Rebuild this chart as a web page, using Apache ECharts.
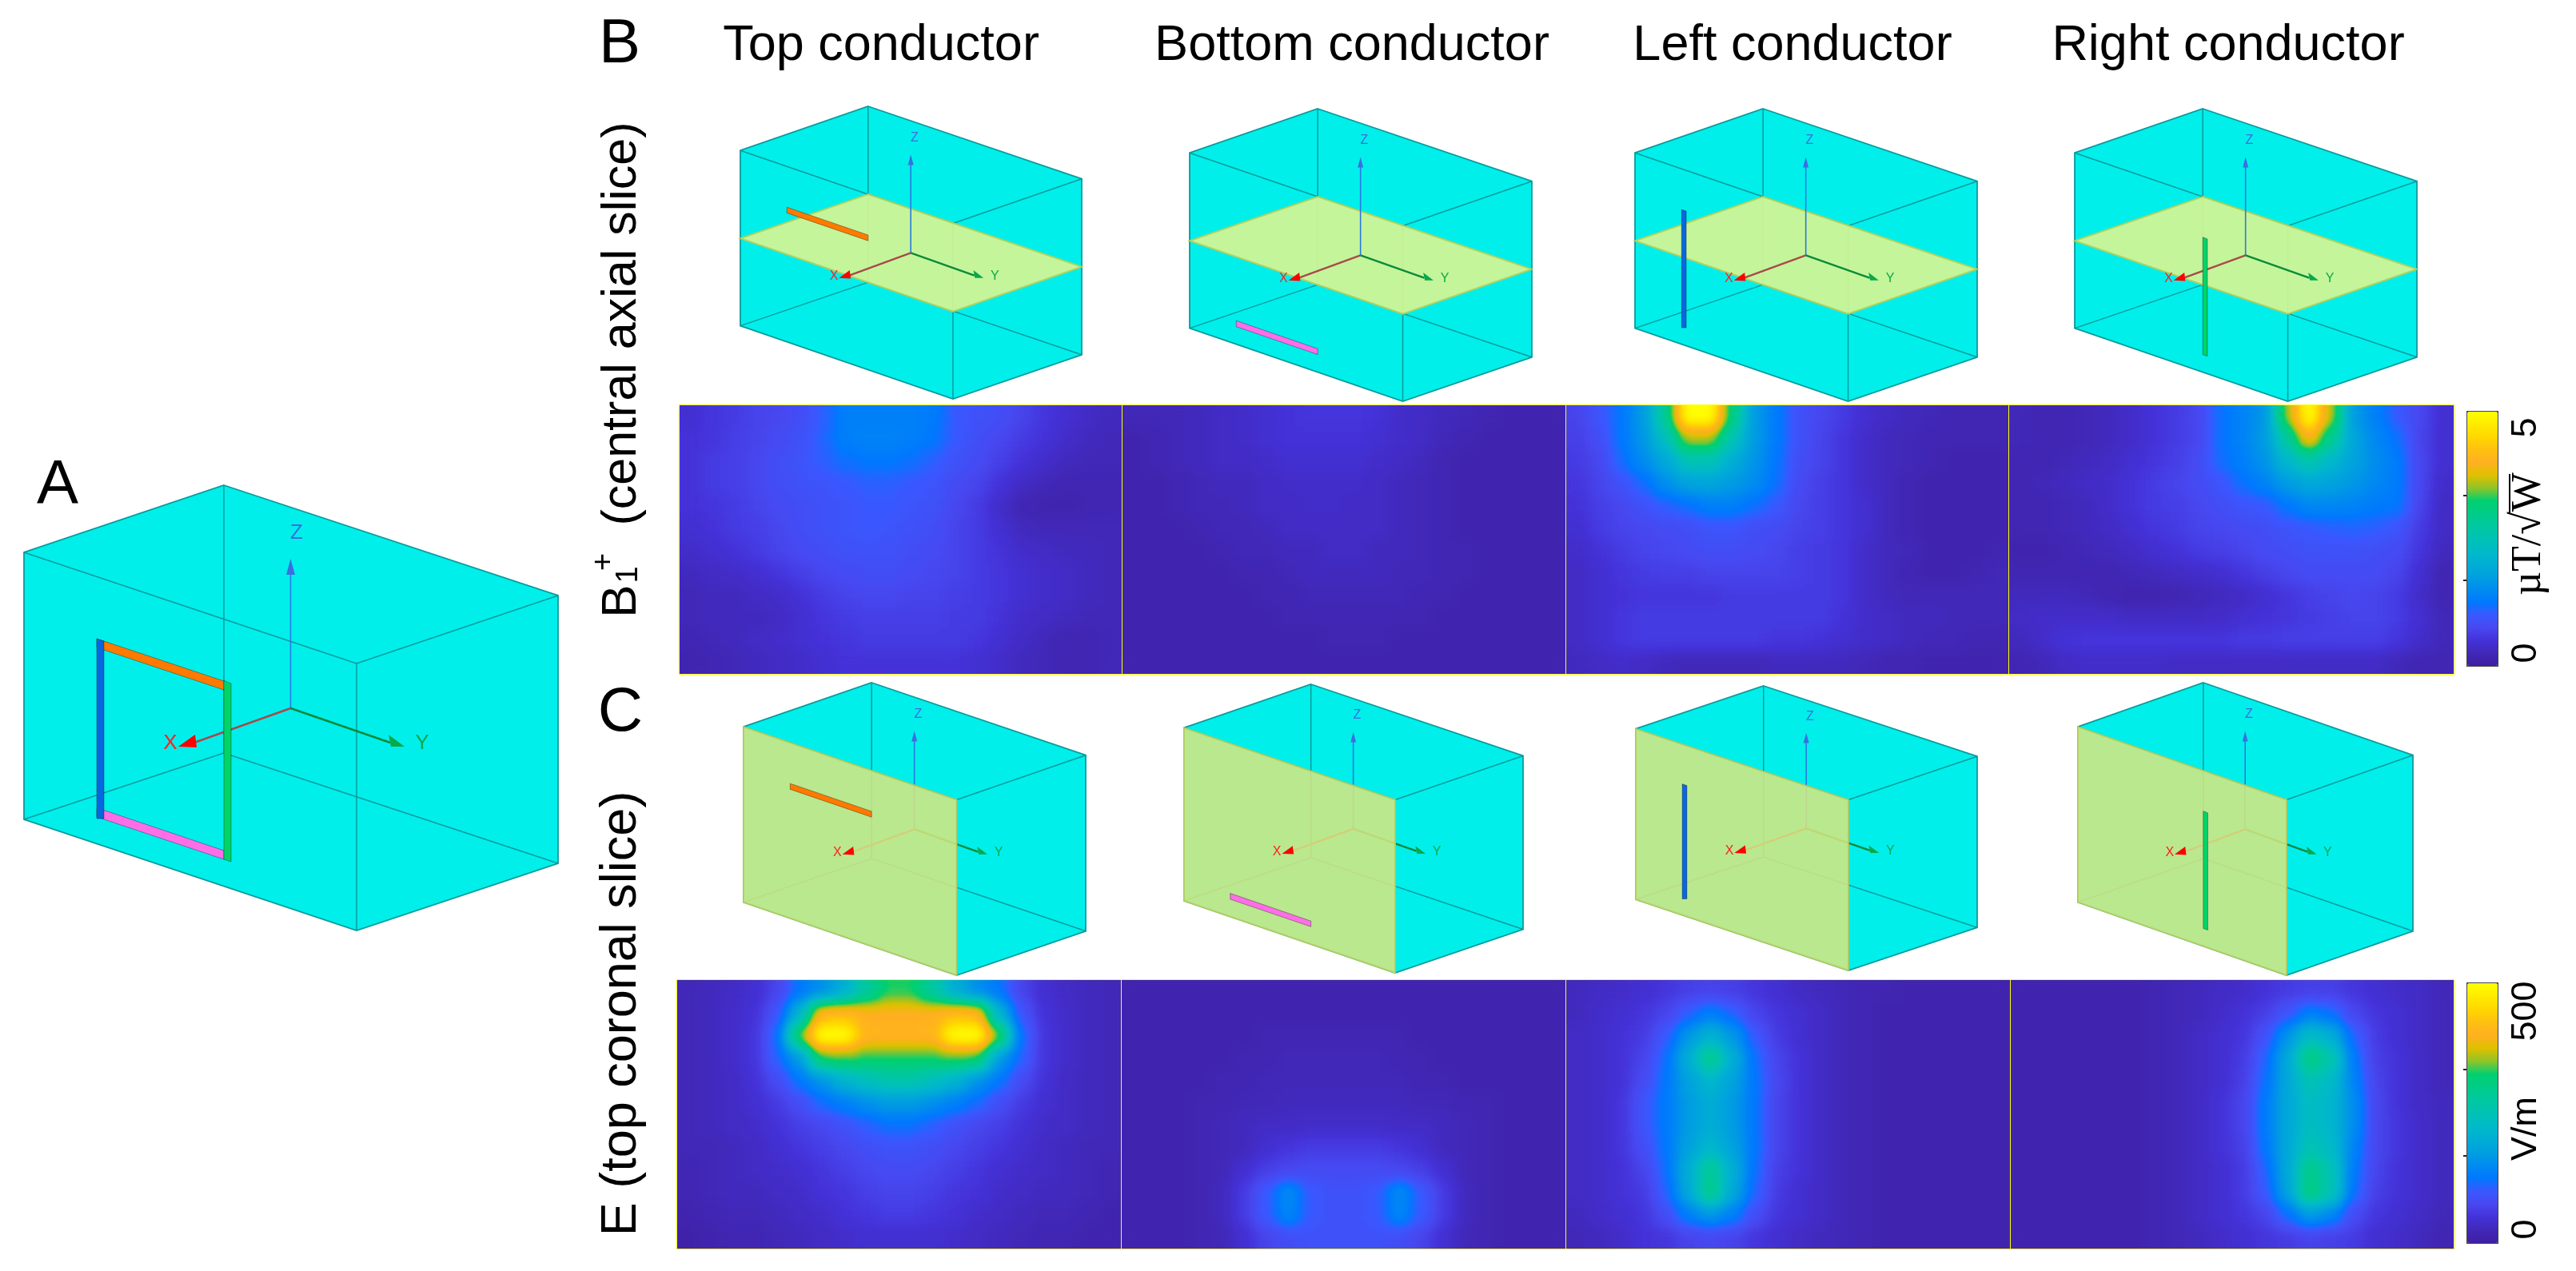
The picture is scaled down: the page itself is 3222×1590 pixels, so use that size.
<!DOCTYPE html>
<html>
<head>
<meta charset="utf-8">
<title>Coil conductor B1+ and E maps</title>
<script src="https://cdn.jsdelivr.net/npm/echarts@6/dist/echarts.min.js"></script>
<style>
  html, body { margin: 0; background: #fff; }
  #page { position: relative; width: 3222px; height: 1590px; overflow: hidden; }
  #overlay { position: absolute; left: 0; top: 0; width: 3222px; height: 1590px; z-index: 2; }
  .panel { position: absolute; overflow: hidden; outline: 3px solid #ffff00; outline-offset: -2px; z-index: 3; }
  .panel > div { width: 100%; height: 100%; filter: url(#fieldShade); }
</style>
</head>
<body>
<!-- the maps are drawn as grey values, then smoothed and coloured with the colour bar's ramp -->
<svg width="0" height="0" style="position:absolute">
  <filter id="fieldShade" color-interpolation-filters="sRGB">
    <feGaussianBlur stdDeviation="9"/>
    <feComponentTransfer>
      <feFuncR id="lutR" type="table"/>
      <feFuncG id="lutG" type="table"/>
      <feFuncB id="lutB" type="table"/>
      <feFuncA type="discrete" tableValues="1"/>
    </feComponentTransfer>
  </filter>
</svg>
<div id="page"><div id="overlay"></div></div>
<script>
// colour bar ramp, bottom to top
const colourRamp = ['#3f1fa0', '#4128b8', '#4432d8', '#4848f0', '#3a58ff', '#0078ff', '#008cf0',
  '#00a0e0', '#00aed4', '#00bac8', '#00c2b4', '#00c8a0', '#00cc88', '#00d070', '#90c428',
  '#e0c000', '#ffb020', '#ffc010', '#ffd700', '#ffeb00', '#ffff00']

const headings = ['Top conductor', 'Bottom conductor', 'Left conductor', 'Right conductor']

// field maps, rows top to bottom, in % of the colour bar (5 uT/sqrtW, 500 V/m)
const b1Top = [
  [9, 11, 12, 14, 15, 17, 21, 27, 27, 27, 27, 26, 20, 18, 17, 14, 11, 9, 7, 6],
  [10, 11, 13, 14, 16, 18, 22, 27, 28, 28, 27, 25, 20, 17, 15, 12, 10, 8, 6, 5],
  [10, 12, 13, 15, 17, 19, 21, 24, 25, 25, 24, 21, 18, 16, 13, 10, 8, 6, 5, 5],
  [10, 12, 13, 15, 17, 18, 19, 20, 21, 21, 20, 19, 16, 14, 10, 7, 5, 4, 4, 4],
  [10, 11, 12, 14, 16, 17, 18, 19, 20, 20, 19, 18, 15, 12, 8, 4, 3, 3, 4, 4],
  [9, 10, 12, 13, 15, 17, 18, 19, 20, 19, 18, 17, 14, 12, 9, 6, 5, 5, 5, 5],
  [8, 9, 10, 12, 14, 16, 17, 18, 18, 18, 17, 16, 14, 12, 10, 8, 7, 6, 6, 5],
  [6, 7, 8, 9, 11, 13, 15, 16, 17, 17, 16, 15, 14, 12, 11, 9, 8, 7, 6, 5],
  [5, 6, 6, 7, 8, 10, 12, 14, 15, 15, 14, 14, 13, 12, 11, 9, 8, 7, 6, 5],
  [5, 6, 6, 6, 7, 9, 11, 12, 13, 13, 13, 13, 12, 12, 10, 8, 7, 6, 5, 5],
  [4, 5, 6, 7, 8, 9, 10, 11, 12, 12, 12, 12, 12, 11, 9, 7, 5, 4, 4, 5],
  [3, 4, 5, 6, 7, 8, 9, 10, 10, 10, 10, 10, 10, 9, 8, 6, 5, 4, 4, 5]
]
const b1Bottom = [
  [5, 5, 5, 6, 7, 8, 9, 10, 11, 11, 11, 10, 8, 7, 6, 5, 4, 3, 3, 3],
  [3, 4, 5, 6, 7, 8, 9, 10, 10, 10, 10, 9, 8, 7, 5, 4, 3, 3, 3, 3],
  [3, 4, 5, 6, 7, 7, 8, 9, 9, 9, 9, 8, 7, 6, 4, 3, 3, 3, 3, 3],
  [3, 3, 4, 5, 6, 6, 7, 8, 8, 8, 8, 7, 6, 5, 4, 3, 3, 3, 3, 3],
  [3, 3, 4, 5, 5, 6, 7, 7, 8, 8, 7, 7, 6, 5, 4, 3, 3, 3, 3, 3],
  [3, 3, 3, 4, 5, 5, 6, 7, 7, 7, 7, 7, 6, 5, 4, 3, 3, 3, 3, 3],
  [3, 3, 3, 3, 4, 5, 5, 6, 6, 7, 7, 6, 6, 5, 4, 4, 3, 3, 3, 3],
  [3, 3, 3, 3, 3, 4, 4, 5, 6, 6, 6, 6, 5, 5, 4, 4, 3, 3, 3, 3],
  [3, 3, 3, 3, 3, 3, 4, 4, 5, 5, 5, 5, 5, 4, 4, 3, 3, 3, 3, 3],
  [3, 3, 3, 3, 3, 3, 3, 4, 4, 4, 4, 4, 4, 4, 3, 3, 3, 3, 3, 3],
  [3, 3, 3, 3, 3, 3, 3, 3, 3, 4, 4, 4, 3, 3, 3, 3, 3, 3, 3, 3],
  [3, 3, 3, 3, 3, 3, 3, 3, 3, 3, 3, 3, 3, 3, 3, 3, 3, 3, 3, 3]
]
const b1Left = [
  [14, 19, 25, 34, 58, 100, 100, 62, 34, 26, 18, 15, 12, 9, 7, 6, 5, 4, 4, 4],
  [13, 17, 25, 33, 48, 72, 72, 50, 34, 26, 18, 14, 11, 8, 6, 5, 4, 4, 4, 4],
  [12, 15, 23, 30, 38, 50, 50, 40, 32, 25, 17, 14, 11, 8, 6, 5, 4, 3, 3, 3],
  [11, 14, 18, 23, 31, 36, 37, 34, 30, 24, 16, 13, 11, 8, 6, 4, 3, 3, 3, 3],
  [10, 13, 15, 18, 21, 24, 27, 27, 24, 20, 15, 13, 11, 9, 6, 4, 3, 3, 3, 3],
  [9, 12, 14, 15, 16, 17, 19, 19, 17, 16, 14, 13, 11, 9, 6, 4, 3, 3, 3, 3],
  [8, 10, 12, 14, 15, 16, 17, 17, 16, 15, 13, 12, 11, 8, 6, 5, 3, 3, 3, 4],
  [7, 9, 11, 12, 13, 13, 14, 14, 14, 14, 13, 12, 11, 8, 6, 4, 3, 3, 4, 5],
  [7, 9, 10, 11, 11, 11, 11, 12, 12, 12, 12, 12, 11, 8, 6, 5, 5, 5, 5, 5],
  [7, 9, 11, 12, 12, 12, 12, 12, 12, 12, 12, 12, 10, 8, 7, 6, 6, 5, 5, 5],
  [7, 9, 11, 12, 12, 12, 12, 12, 12, 11, 11, 10, 9, 8, 7, 6, 5, 5, 4, 4],
  [6, 7, 8, 7, 6, 5, 5, 5, 5, 6, 6, 6, 6, 5, 4, 4, 3, 3, 3, 3]
]
const b1Right = [
  [5, 4, 4, 5, 6, 8, 10, 12, 15, 24, 28, 33, 70, 100, 72, 34, 27, 20, 15, 9],
  [5, 4, 4, 5, 6, 8, 10, 12, 15, 24, 28, 34, 55, 80, 58, 37, 29, 24, 14, 9],
  [4, 4, 5, 6, 7, 9, 11, 13, 16, 23, 27, 32, 44, 52, 44, 36, 30, 26, 15, 9],
  [4, 5, 6, 7, 8, 10, 12, 14, 16, 19, 24, 28, 34, 38, 36, 33, 29, 26, 15, 8],
  [4, 4, 5, 6, 8, 10, 12, 13, 15, 17, 19, 20, 25, 29, 29, 28, 26, 25, 14, 7],
  [4, 4, 5, 6, 7, 9, 11, 12, 14, 15, 16, 17, 19, 20, 21, 22, 21, 19, 12, 7],
  [3, 3, 4, 5, 6, 7, 9, 10, 12, 13, 14, 16, 17, 18, 18, 18, 17, 16, 11, 6],
  [4, 4, 4, 4, 4, 5, 6, 7, 8, 9, 11, 13, 15, 16, 16, 16, 16, 14, 9, 4],
  [6, 6, 6, 5, 4, 3, 3, 4, 5, 6, 7, 9, 11, 13, 14, 15, 14, 12, 8, 4],
  [7, 8, 8, 8, 8, 7, 7, 7, 7, 8, 9, 10, 11, 12, 13, 14, 14, 12, 9, 5],
  [6, 8, 10, 11, 11, 11, 11, 11, 11, 11, 12, 12, 13, 13, 13, 13, 13, 11, 8, 5],
  [4, 5, 7, 8, 8, 8, 8, 7, 7, 7, 7, 7, 7, 7, 7, 7, 7, 5, 4, 4]
]
const eTop = [
  [5, 6, 7, 9, 14, 25, 31, 40, 55, 66, 66, 55, 40, 31, 25, 14, 9, 7, 6, 5],
  [5, 6, 8, 10, 19, 42, 82, 84, 80, 80, 80, 80, 84, 82, 42, 19, 10, 8, 6, 5],
  [5, 6, 8, 11, 24, 68, 100, 100, 82, 81, 81, 82, 100, 100, 68, 24, 11, 8, 6, 5],
  [5, 6, 8, 11, 22, 34, 66, 68, 66, 66, 66, 66, 68, 66, 34, 22, 11, 8, 6, 5],
  [5, 6, 7, 10, 16, 25, 32, 42, 48, 52, 52, 48, 42, 32, 25, 16, 10, 7, 6, 5],
  [5, 6, 7, 9, 12, 17, 23, 27, 31, 34, 34, 31, 27, 23, 17, 12, 9, 7, 6, 5],
  [5, 6, 7, 8, 10, 13, 15, 18, 21, 24, 24, 21, 18, 15, 13, 10, 8, 7, 6, 5],
  [5, 5, 6, 7, 9, 11, 13, 15, 17, 18, 18, 17, 15, 13, 11, 9, 7, 6, 5, 5],
  [4, 5, 6, 7, 8, 9, 11, 13, 15, 16, 16, 15, 13, 11, 9, 8, 7, 6, 5, 4],
  [4, 5, 6, 6, 7, 8, 10, 11, 13, 14, 14, 13, 11, 10, 8, 7, 6, 6, 5, 4],
  [3, 4, 5, 5, 6, 7, 8, 10, 11, 12, 12, 11, 10, 8, 7, 6, 5, 5, 4, 3],
  [2, 3, 4, 4, 5, 6, 7, 8, 9, 9, 9, 9, 8, 7, 6, 5, 4, 4, 3, 3]
]
const eBottom = [
  [3, 3, 3, 3, 3, 3, 3, 3, 3, 3, 3, 3, 3, 3, 3, 3, 3, 3, 3, 3],
  [3, 3, 3, 3, 3, 3, 3, 3, 3, 3, 3, 3, 3, 3, 3, 3, 3, 3, 3, 3],
  [3, 3, 3, 3, 3, 3, 4, 4, 4, 4, 4, 4, 4, 3, 3, 3, 3, 3, 3, 3],
  [3, 3, 3, 3, 3, 4, 4, 5, 5, 5, 5, 5, 4, 4, 3, 3, 3, 3, 3, 3],
  [3, 3, 3, 3, 4, 4, 5, 5, 5, 5, 5, 5, 5, 4, 4, 3, 3, 3, 3, 3],
  [3, 3, 3, 4, 4, 5, 5, 6, 6, 6, 6, 6, 6, 5, 5, 4, 4, 3, 3, 3],
  [3, 3, 3, 4, 5, 6, 7, 7, 8, 8, 8, 8, 7, 7, 6, 5, 4, 3, 3, 3],
  [3, 3, 3, 4, 5, 6, 9, 11, 12, 12, 12, 12, 11, 9, 6, 5, 4, 3, 3, 3],
  [3, 3, 3, 4, 5, 9, 13, 15, 16, 16, 16, 16, 15, 13, 9, 5, 4, 3, 3, 3],
  [3, 3, 3, 4, 6, 12, 20, 30, 20, 18, 18, 20, 30, 20, 12, 6, 4, 3, 3, 3],
  [3, 3, 3, 4, 6, 12, 20, 29, 20, 18, 18, 20, 29, 20, 12, 6, 4, 3, 3, 3],
  [3, 3, 3, 4, 5, 9, 14, 17, 18, 18, 18, 18, 17, 14, 9, 5, 4, 3, 3, 3]
]
const eLeft = [
  [6, 7, 8, 9, 11, 13, 14, 13, 11, 9, 7, 6, 5, 4, 4, 3, 3, 3, 3, 3],
  [6, 8, 9, 11, 14, 21, 27, 22, 14, 11, 9, 7, 5, 4, 3, 3, 3, 3, 3, 3],
  [7, 8, 10, 12, 20, 33, 42, 33, 20, 12, 9, 7, 5, 4, 3, 3, 3, 3, 3, 3],
  [7, 8, 10, 14, 24, 40, 60, 40, 24, 14, 10, 7, 5, 4, 3, 3, 3, 3, 3, 3],
  [7, 8, 10, 16, 25, 36, 44, 36, 25, 15, 10, 7, 5, 4, 3, 3, 3, 3, 3, 3],
  [7, 8, 11, 19, 26, 34, 40, 34, 25, 14, 10, 7, 5, 4, 3, 3, 3, 3, 3, 3],
  [7, 8, 11, 19, 26, 34, 40, 34, 25, 14, 10, 7, 5, 4, 3, 3, 3, 3, 3, 3],
  [7, 8, 11, 17, 25, 36, 44, 36, 25, 14, 10, 7, 5, 4, 3, 3, 3, 3, 3, 3],
  [7, 8, 10, 14, 24, 40, 58, 40, 24, 13, 10, 7, 5, 4, 3, 3, 3, 3, 3, 3],
  [7, 8, 10, 12, 22, 38, 60, 38, 22, 12, 9, 7, 5, 4, 3, 3, 3, 3, 3, 3],
  [6, 8, 9, 11, 17, 27, 33, 27, 17, 11, 9, 7, 5, 4, 3, 3, 3, 3, 3, 3],
  [5, 6, 8, 10, 11, 14, 15, 14, 11, 9, 7, 6, 5, 4, 3, 3, 3, 3, 3, 3]
]
const eRight = [
  [3, 3, 3, 3, 3, 3, 4, 5, 6, 7, 8, 10, 12, 13, 13, 11, 9, 8, 7, 5],
  [3, 3, 3, 3, 3, 3, 4, 5, 6, 8, 10, 13, 19, 27, 24, 15, 11, 9, 7, 5],
  [3, 3, 3, 3, 3, 3, 4, 5, 7, 9, 11, 18, 32, 46, 40, 22, 12, 9, 7, 5],
  [3, 3, 3, 3, 3, 3, 4, 5, 7, 9, 12, 22, 38, 62, 52, 26, 13, 10, 7, 5],
  [3, 3, 3, 3, 3, 3, 4, 5, 7, 9, 13, 24, 38, 50, 45, 28, 14, 10, 7, 5],
  [3, 3, 3, 3, 3, 3, 4, 5, 7, 10, 14, 26, 38, 47, 43, 30, 15, 10, 7, 6],
  [3, 3, 3, 3, 3, 3, 4, 5, 7, 10, 14, 26, 38, 47, 43, 30, 15, 11, 8, 6],
  [3, 3, 3, 3, 3, 3, 4, 5, 7, 10, 13, 25, 38, 50, 45, 28, 15, 11, 8, 6],
  [3, 3, 3, 3, 3, 3, 4, 5, 7, 9, 12, 22, 38, 60, 50, 26, 14, 10, 8, 6],
  [3, 3, 3, 3, 3, 3, 4, 5, 7, 9, 12, 20, 36, 62, 50, 24, 13, 10, 8, 6],
  [3, 3, 3, 3, 3, 3, 4, 5, 7, 9, 11, 14, 24, 34, 29, 16, 11, 9, 7, 5],
  [3, 3, 3, 3, 3, 3, 4, 5, 6, 8, 9, 11, 12, 14, 13, 12, 9, 8, 6, 4]
]

// coil drawing, in the units of its own small axes (668 x 557)
const boxOutline = [[250, 0], [668, 138], [668, 473], [416, 557], [0, 418], [0, 84]]
const boxEdges = [
  [[0, 84], [416, 223]], [[416, 223], [668, 138]], [[416, 223], [416, 557]],
  [[250, 0], [250, 335]], [[250, 335], [0, 418]], [[250, 335], [668, 473]]
]
const axialSlice = [[250, 167.5], [668, 305.5], [416, 390.5], [0, 251.5]]
const coronalSlice = [[0, 84], [416, 223], [416, 557], [0, 418]]
const axisOrigin = [333.5, 279]
const axisTips = { z: [333.5, 110], x: [213, 322], y: [458, 322] }
const axisHeads = {
  z: [[333.5, 92], [339, 112], [328, 112]],
  x: [[193, 327], [214, 312], [216, 328]],
  y: [[476, 327], [456, 312], [459, 327]]
}
const axisNames = { Z: [341, 60], X: [183, 323], Y: [498, 323] }
const conductorShapes = {
  top: [[91, 192], [250, 245], [250, 256], [91, 203]],
  bottom: [[91, 403.5], [250, 457], [250, 468], [91, 415]],
  left: [[91, 192], [100, 195], [100, 417], [91, 417]],
  right: [[250, 244.5], [259, 248], [259, 471], [250, 468]]
}
const conductorColours = { top: '#ff7a00', bottom: '#ff6ee8', left: '#0a66e0', right: '#00d468' }

// colour bar minor ticks
const b1BarTicks = [1.67, 3.33]
const eBarTicks = [167, 333]

const FONT = '"Liberation Sans", Arial, sans-serif'
const CYAN = '#00efeb'
const EDGE = '#0b9a9c'

// drawing frames: left, top, width, height
const drawings = [
  { rect: [30, 607, 668, 557], parts: ['top', 'bottom', 'left', 'right'], slice: null, big: true },
  { rect: [926, 133, 427, 366], parts: ['top'], slice: 'axial' },
  { rect: [1488, 136, 428, 366], parts: ['bottom'], slice: 'axial' },
  { rect: [2045, 136, 428, 366], parts: ['left'], slice: 'axial' },
  { rect: [2595, 136, 428, 366], parts: ['right'], slice: 'axial' },
  { rect: [930, 854, 428, 366], parts: ['top'], slice: 'coronal' },
  { rect: [1481, 856, 424, 361], parts: ['bottom'], slice: 'coronal' },
  { rect: [2046, 858, 427, 356], parts: ['left'], slice: 'coronal' },
  { rect: [2599, 854, 419, 366], parts: ['right'], slice: 'coronal' }
]

// field panels: data, left, top, width, height
const panels = [
  [b1Top, 850, 507, 554, 336], [b1Bottom, 1404, 507, 555, 336],
  [b1Left, 1959, 507, 554, 336], [b1Right, 2513, 507, 556, 336],
  [eTop, 847, 1226, 556, 336], [eBottom, 1403, 1226, 556, 336],
  [eLeft, 1959, 1226, 556, 336], [eRight, 2515, 1226, 554, 336]
]

// fill the ramp lookup of the svg filter
const rampRgb = colourRamp.map(c => [1, 3, 5].map(i => (parseInt(c.substr(i, 2), 16) / 255).toFixed(3)))
;['lutR', 'lutG', 'lutB'].forEach((id, k) => {
  document.getElementById(id).setAttribute('tableValues', rampRgb.map(c => c[k]).join(' '))
})

panels.forEach(([values, left, top, width, height]) => {
  const wrap = document.createElement('div')
  wrap.className = 'panel'
  wrap.style.cssText = `left:${left}px;top:${top}px;width:${width}px;height:${height}px`
  const box = document.createElement('div')
  wrap.appendChild(box)
  document.getElementById('page').appendChild(wrap)

  const cells = []
  values.forEach((row, r) => row.forEach((v, c) => cells.push([c, r, v])))
  echarts.init(box).setOption({
    animation: false,
    grid: { left: 0, right: 0, top: 0, bottom: 0 },
    xAxis: { type: 'category', show: false, data: values[0].map((_, i) => i) },
    yAxis: { type: 'category', show: false, inverse: true, data: values.map((_, i) => i) },
    visualMap: { show: false, min: 0, max: 100, inRange: { color: ['#000000', '#ffffff'] } },
    series: [{ type: 'heatmap', data: cells, silent: true, progressive: 0 }]
  })
})

function renderDrawing(d) {
  const k = d.big ? 1 : 0.62
  return function (params, api) {
    const pts = list => list.map(p => api.coord(p))
    const poly = (list, fill, extra) => ({
      type: 'polygon', shape: { points: pts(list) },
      style: Object.assign({ fill: fill }, extra || {})
    })
    const line = (a, b, stroke, width) => {
      const [p, q] = pts([a, b])
      return { type: 'line', shape: { x1: p[0], y1: p[1], x2: q[0], y2: q[1] }, style: { stroke: stroke, lineWidth: width, fill: null } }
    }
    const children = [poly(boxOutline, CYAN, { stroke: EDGE, lineWidth: 1.8 })]
    boxEdges.forEach(e => children.push(line(e[0], e[1], EDGE, 1.5)))

    const axes = [
      line(axisOrigin, axisTips.z, '#2a7ae0', 1.6),
      line(axisOrigin, axisTips.x, '#a84a4a', 2.4),
      line(axisOrigin, axisTips.y, '#0a8a3a', 2.4)
    ]
    const axial = poly(axialSlice, '#d5f593', { stroke: '#b5cf5a', lineWidth: 2, opacity: 0.92 })
    const coronal = poly(coronalSlice, '#dae67f', { stroke: '#b8d060', lineWidth: 2, opacity: 0.85 })
    if (d.slice === 'axial') children.push(axial, ...axes)
    else if (d.slice === 'coronal') children.push(...axes, coronal)
    else children.push(...axes)

    children.push(poly(axisHeads.z, '#3a6fe0'), poly(axisHeads.x, '#ff0000'), poly(axisHeads.y, '#0aa84a'))
    Object.keys(axisNames).forEach(name => {
      const [p] = pts([axisNames[name]])
      children.push({
        type: 'text',
        style: {
          text: name, x: p[0], y: p[1], align: 'center', verticalAlign: 'middle',
          font: `${Math.round(26 * k)}px ${FONT}`,
          fill: { Z: '#3a6fe0', X: '#ff2020', Y: '#0aa84a' }[name]
        }
      })
    })
    d.parts.forEach(part => {
      children.push(poly(conductorShapes[part], conductorColours[part], { stroke: '#00000055', lineWidth: 1 }))
    })
    return { type: 'group', children: children }
  }
}

const grid = []
const xAxis = []
const yAxis = []
const series = []
drawings.forEach((d, i) => {
  grid.push({ left: d.rect[0], top: d.rect[1], width: d.rect[2], height: d.rect[3] })
  xAxis.push({ type: 'value', gridIndex: i, min: 0, max: 668, show: false })
  yAxis.push({ type: 'value', gridIndex: i, min: 0, max: 557, inverse: true, show: false })
  series.push({
    type: 'custom', xAxisIndex: i, yAxisIndex: i, coordinateSystem: 'cartesian2d',
    data: [[0, 0]], silent: true, clip: false, renderItem: renderDrawing(d)
  })
})

// colour bars: ramp from visualMap, minor ticks from a matching axis
const bars = [
  { top: 514, height: 318, max: 5, ticks: b1BarTicks },
  { top: 1229, height: 325, max: 500, ticks: eBarTicks }
]
const visualMap = bars.map(b => ({
  type: 'continuous', seriesIndex: [], min: 0, max: b.max, left: 3085, top: b.top,
  itemWidth: 38, itemHeight: b.height, padding: 0, text: null, calculable: false, hoverLink: false,
  borderColor: '#444', borderWidth: 2, inRange: { color: colourRamp }
}))
bars.forEach(b => {
  const i = grid.length
  grid.push({ left: 3085, top: b.top, width: 38, height: b.height })
  xAxis.push({ type: 'value', gridIndex: i, show: false })
  yAxis.push({
    type: 'value', gridIndex: i, position: 'right', min: 0, max: b.max,
    axisLine: { show: false }, axisLabel: { show: false }, splitLine: { show: false },
    axisTick: { show: true, inside: true, length: 4, customValues: b.ticks, lineStyle: { color: '#222', width: 2 } }
  })
})

const text = (str, x, y, size, opts) => Object.assign({
  type: 'text', x: x, y: y, silent: true,
  style: {
    text: str, align: 'center', verticalAlign: 'middle', fill: '#000',
    font: `${size}px ${(opts && opts.family) || FONT}`
  }
}, opts && opts.rotation ? { rotation: opts.rotation } : {})
const UP = Math.PI / 2

const graphic = [
  text('A', 72, 608, 78),
  text('B', 775, 56, 78),
  text('C', 776, 892, 78),
  text(headings[0], 1102, 58, 63),
  text(headings[1], 1691, 58, 63),
  text(headings[2], 2242, 58, 63),
  text(headings[3], 2787, 58, 63),
  text('B', 778, 752, 62, { rotation: UP }),
  text('1', 787, 719, 38, { rotation: UP }),
  text('+', 756, 703, 38, { rotation: UP }),
  text('(central axial slice)', 778, 405, 61, { rotation: UP }),
  text('E (top coronal slice)', 778, 1268, 63, { rotation: UP }),
  text('5', 3160, 535, 45, { rotation: UP }),
  text('0', 3160, 817, 45, { rotation: UP }),
  text('µT/√W', 3163, 668, 52, { rotation: UP, family: '"Liberation Serif", serif' }),
  { type: 'line', silent: true, shape: { x1: 3139, y1: 593, x2: 3139, y2: 642 }, style: { stroke: '#000', lineWidth: 2 } },
  text('500', 3160, 1265, 45, { rotation: UP }),
  text('V/m', 3160, 1412, 45, { rotation: UP }),
  text('0', 3160, 1538, 45, { rotation: UP })
]

echarts.init(document.getElementById('overlay')).setOption({
  animation: false,
  backgroundColor: 'transparent',
  grid: grid, xAxis: xAxis, yAxis: yAxis, series: series,
  visualMap: visualMap, graphic: graphic
})
</script>
</body>
</html>
